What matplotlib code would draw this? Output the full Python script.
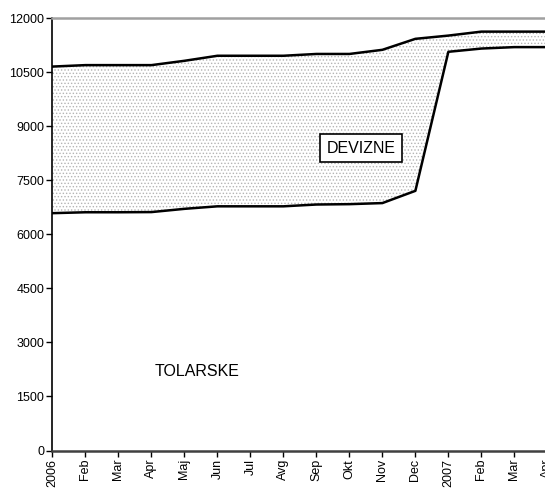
import matplotlib
matplotlib.use('Agg')
import matplotlib.pyplot as plt
import numpy as np

plt.rcParams['font.family'] = ['Liberation Sans', 'DejaVu Sans']
plt.rcParams['hatch.color'] = '#b4b4b4'
plt.rcParams['hatch.linewidth'] = 0.6

months = ['2006', 'Feb', 'Mar', 'Apr', 'Maj', 'Jun', 'Jul', 'Avg', 'Sep', 'Okt',
          'Nov', 'Dec', '2007', 'Feb', 'Mar', 'Apr']
tolarske = [6590, 6615, 6615, 6620, 6710, 6780, 6780, 6780, 6830, 6840,
            6870, 7210, 11070, 11160, 11200, 11200]
skupaj = [10660, 10700, 10700, 10700, 10820, 10960, 10960, 10960, 11010, 11010,
          11125, 11430, 11520, 11630, 11630, 11630]
yticks = [0, 1500, 3000, 4500, 6000, 7500, 9000, 10500, 12000]

x = np.arange(len(months))

fig = plt.figure(figsize=(5.45, 4.92), dpi=100)
ax = fig.add_axes([0.0963, 0.0843, 0.908, 0.8785])

ax.fill_between(x, tolarske, skupaj, facecolor='white', edgecolor='#b4b4b4',
                hatch='.....', linewidth=0)
ax.plot(x, skupaj, color='black', linewidth=1.8)
ax.plot(x, tolarske, color='black', linewidth=1.8)

ax.text(4.37, 2190, 'TOLARSKE', fontsize=11.5, ha='center', va='center')
ax.text(9.35, 8394, 'DEVIZNE', fontsize=11.5, ha='center', va='center',
        bbox=dict(boxstyle='square,pad=0.4', facecolor='white',
                  edgecolor='black', linewidth=1.2))

ax.set_xlim(0, 15)
ax.set_ylim(0, 12000)
ax.set_xticks(x)
ax.set_xticklabels(months, rotation=90, fontsize=9)
ax.set_yticks(yticks)
ax.set_yticklabels([str(v) for v in yticks], fontsize=9)
ax.tick_params(axis='both', direction='out', length=4, width=1, pad=2)

ax.spines['top'].set_color('#a0a0a0')
ax.spines['top'].set_linewidth(1.8)
ax.spines['right'].set_visible(False)
ax.spines['left'].set_color('black')
ax.spines['left'].set_linewidth(1.2)
ax.spines['bottom'].set_color('#404040')
ax.spines['bottom'].set_linewidth(1.8)

fig.savefig('out.png', dpi=100)
